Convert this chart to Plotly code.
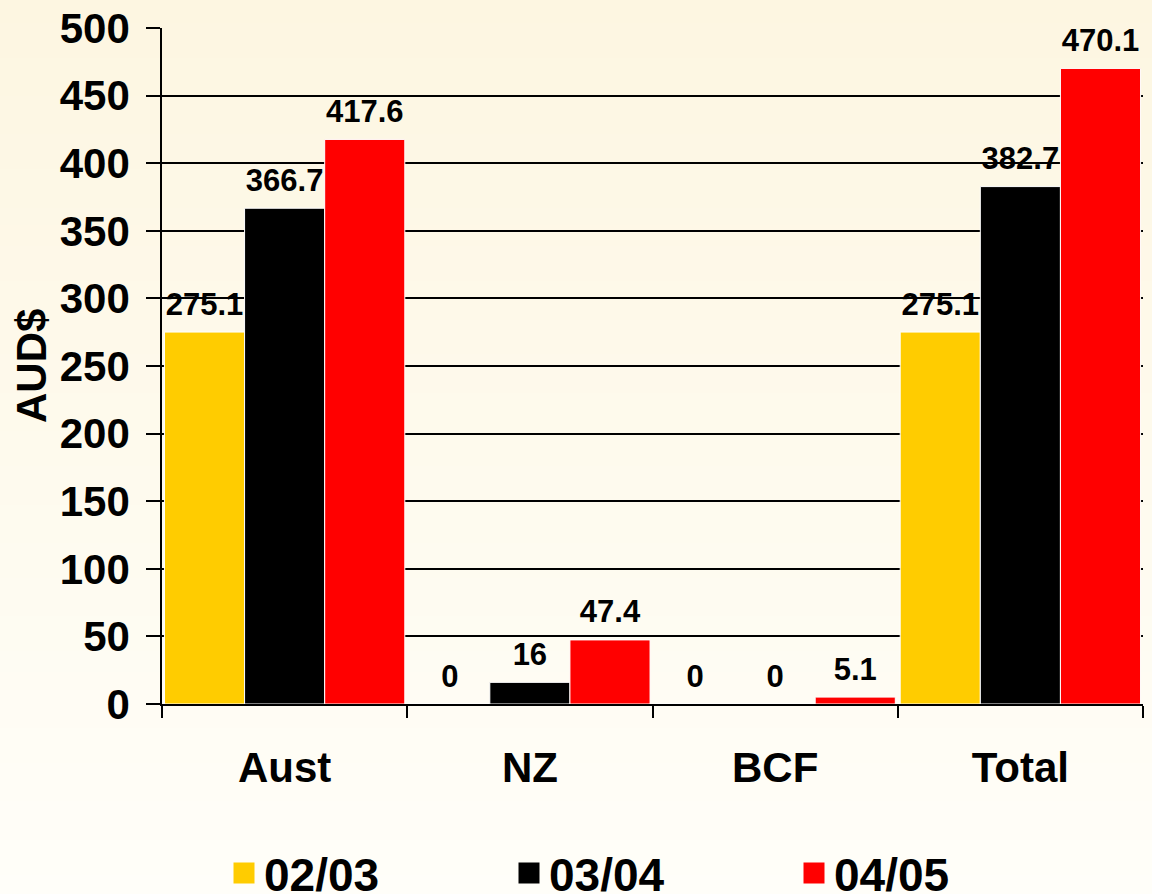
import base64
import struct
import zlib

import plotly.graph_objects as go

# ---------------- data ----------------
categories = ["Aust", "NZ", "BCF", "Total"]
series_names = ["02/03", "03/04", "04/05"]
values_0203 = [275.1, 0, 0, 275.1]
values_0304 = [366.7, 16, 0, 382.7]
values_0405 = [417.6, 47.4, 5.1, 470.1]
series_values = [values_0203, values_0304, values_0405]
series_colors = ["#FFCC00", "#000000", "#FF0000"]
y_ticks = [0, 50, 100, 150, 200, 250, 300, 350, 400, 450, 500]

FONT = "Arial, 'Liberation Sans', sans-serif"
W, H = 1152, 894
ML, MR, MT, MB = 162, 9, 28, 190
PW, PH = W - ML - MR, H - MT - MB


# ---------------- gradient background png ----------------
def gradient_png(top, bottom, n=256):
    rows = []
    for i in range(n):
        t = i / (n - 1)
        c = bytes(int(round(a + (b - a) * t)) for a, b in zip(top, bottom))
        rows.append(b"\x00" + c)
    raw = b"".join(rows)

    def chunk(tag, data):
        return (struct.pack(">I", len(data)) + tag + data
                + struct.pack(">I", zlib.crc32(tag + data) & 0xFFFFFFFF))

    ihdr = struct.pack(">IIBBBBB", 1, n, 8, 2, 0, 0, 0)
    png = (b"\x89PNG\r\n\x1a\n" + chunk(b"IHDR", ihdr)
           + chunk(b"IDAT", zlib.compress(raw, 9)) + chunk(b"IEND", b""))
    return "data:image/png;base64," + base64.b64encode(png).decode()


bg = gradient_png((253, 246, 225), (255, 254, 249))

fig = go.Figure()

groups = ["g1", "g2", "g3"]

for name, vals, col, g in zip(series_names, series_values, series_colors, groups):
    fig.add_trace(go.Bar(
        x=categories, y=vals, name=name,
        offsetgroup=g,
        marker=dict(color=col, line=dict(color="white", width=1)),
        showlegend=False,
        hoverinfo="skip",
    ))

# value labels, grouped like the bars
for name, vals, g in zip(series_names, series_values, groups):
    fig.add_trace(go.Scatter(
        x=categories, y=vals, name=name,
        offsetgroup=g,
        mode="markers+text",
        marker=dict(size=14, opacity=0),
        text=[f"{v:g}" for v in vals],
        textposition="top center",
        textfont=dict(family=FONT, size=31, color="black", weight="bold"),
        cliponaxis=False,
        showlegend=False,
        hoverinfo="skip",
    ))

# legend proxies (larger square swatches)
for name, col, g in zip(series_names, series_colors, groups):
    fig.add_trace(go.Scatter(
        x=[None], y=[None], mode="markers", name=name,
        offsetgroup=g,
        marker=dict(symbol="square", size=16, color=col,
                    line=dict(color=col, width=5)),
        showlegend=True,
    ))

fig.update_layout(
    width=W, height=H,
    margin=dict(l=ML, r=MR, t=MT, b=MB, autoexpand=False),
    paper_bgcolor="#FEFAEC",
    plot_bgcolor="rgba(0,0,0,0)",
    barmode="group",
    scattermode="group",
    bargap=0.02,
    bargroupgap=0,
    scattergap=0.02,
    font=dict(family=FONT, color="black"),
    images=[dict(
        source=bg, xref="paper", yref="paper",
        x=-ML / PW, y=1 + MT / PH, sizex=W / PW, sizey=H / PH,
        xanchor="left", yanchor="top", sizing="stretch", layer="below",
    )],
    xaxis=dict(
        type="category",
        automargin=False,
        showline=True, linecolor="black", linewidth=1.5,
        ticks="outside", tickson="boundaries", ticklen=12, tickwidth=1.5,
        tickcolor="black",
        showgrid=False,
        tickfont=dict(family=FONT, size=42, color="black", weight="bold"),
        ticklabelstandoff=26,
    ),
    yaxis=dict(
        range=[0, 500],
        automargin=False,
        tickvals=y_ticks,
        showline=True, linecolor="black", linewidth=1.5,
        ticks="outside", ticklen=14, tickwidth=1.5, tickcolor="black",
        showgrid=True, gridcolor="black", gridwidth=1.5,
        zeroline=False,
        tickfont=dict(family=FONT, size=42, color="black", weight="bold"),
        ticklabelstandoff=8,
    ),
    legend=dict(
        orientation="h",
        x=(224 - ML) / PW, xanchor="left",
        yref="container",
        y=1 - 873 / H, yanchor="middle",
        bgcolor="rgba(0,0,0,0)",
        itemsizing="trace",
        entrywidth=240, entrywidthmode="pixels",
        font=dict(family=FONT, size=46, color="black", weight="bold"),
    ),
    annotations=[dict(
        text="AUD$", xref="paper", yref="paper",
        x=(31 - ML) / PW, y=0.5, xanchor="center", yanchor="middle",
        textangle=-90, showarrow=False,
        font=dict(family=FONT, size=42, color="black", weight="bold"),
    )],
)

fig.write_html("out.html")
